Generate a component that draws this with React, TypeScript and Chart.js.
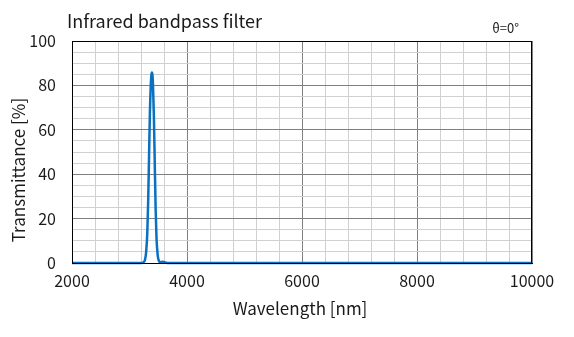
import React, { useEffect, useRef } from "react";
import { Chart, registerables } from "chart.js";

Chart.register(...registerables);

const wavelength = [2000, 3000, 3200, 3240, 3270, 3290, 3310, 3325, 3340, 3355, 3370, 3380, 3390, 3400, 3410, 3425, 3440, 3455, 3470, 3490, 3510, 3540, 3580, 3620, 3660, 4000, 6000, 8000, 10000];
const transmittance = [0, 0, 0, 0.3, 1.5, 5, 14, 28, 48, 68, 80, 84.5, 85.8, 84.5, 79, 65, 44, 24, 11, 3.5, 1, 0.3, 0.6, 0.2, 0, 0, 0, 0, 0];

const xTicks = [2000, 4000, 6000, 8000, 10000];
const yTicks = [0, 20, 40, 60, 80, 100];

const title = "Infrared bandpass filter";
const angleNote = "θ=0°";
const xTitle = "Wavelength [nm]";
const yTitle = "Transmittance [%]";

const FONT = "'Noto Sans CJK JP', 'Noto Sans', sans-serif";

export default function App() {
  const ref = useRef<HTMLCanvasElement>(null);
  useEffect(() => {
    document.body.style.margin = "0";
    const textPlugin = {
      id: "texts",
      afterDraw(chart: any) {
        const ctx = chart.ctx;
        const a = chart.chartArea;
        ctx.save();
        ctx.fillStyle = "#1a1a1a";
        ctx.textBaseline = "alphabetic";
        ctx.font = `18px ${FONT}`;
        ctx.textAlign = "left";
        ctx.fillText(title, 67, 28);
        ctx.font = `13px ${FONT}`;
        ctx.textAlign = "right";
        ctx.fillText(angleNote, 519, 33);
        ctx.font = `17px ${FONT}`;
        ctx.textAlign = "center";
        ctx.textBaseline = "middle";
        ctx.fillText(xTitle, (a.left + a.right) / 2 - 2, 309);
        ctx.translate(19, 170);
        ctx.rotate(-Math.PI / 2);
        ctx.fillText(yTitle, 0, 0);
        ctx.restore();
      },
    };
    const chart = new Chart(ref.current!, {
      type: "line",
      data: {
        datasets: [
          {
            data: wavelength.map((x, i) => ({ x, y: transmittance[i] })),
            borderColor: "#0a70c0",
            borderWidth: 2.5,
            pointRadius: 0,
            cubicInterpolationMode: "monotone",
            fill: false,
            clip: 4,
          } as any,
        ],
      },
      options: {
        animation: false,
        responsive: false,
        layout: { padding: { left: 0, right: 42, top: 41, bottom: 0 } },
        plugins: { legend: { display: false }, tooltip: { enabled: false } },
        scales: {
          x: {
            type: "linear",
            min: 2000,
            max: 10000,
            afterFit: (s: any) => { s.height = 337 - 263; },
            afterBuildTicks: (s: any) => {
              const t = [];
              for (let v = 2000; v <= 10000; v += 400) t.push({ value: v });
              s.ticks = t;
            },
            ticks: {
              autoSkip: false,
              maxRotation: 0,
              padding: 8,
              color: "#1a1a1a",
              font: { family: FONT, size: 16 },
              callback: (v: any) => (xTicks.includes(v) ? String(v) : ""),
            },
            grid: {
              drawTicks: false,
              color: (c: any) => (c.tick && c.tick.value % 2000 === 0 ? "#7f7f7f" : "#d0d0d0"),
              lineWidth: 1,
            },
            border: { display: true, color: "#000", width: 1 },
          },
          y: {
            type: "linear",
            min: 0,
            max: 100,
            afterFit: (s: any) => { s.width = 72; },
            afterBuildTicks: (s: any) => {
              const t = [];
              for (let v = 0; v <= 100; v += 5) t.push({ value: v });
              s.ticks = t;
            },
            ticks: {
              autoSkip: false,
              padding: 16,
              color: "#1a1a1a",
              font: { family: FONT, size: 16 },
              callback: (v: any) => (yTicks.includes(v) ? String(v) : ""),
            },
            grid: {
              drawTicks: false,
              color: (c: any) => (c.tick && c.tick.value % 20 === 0 ? "#7f7f7f" : "#d0d0d0"),
              lineWidth: 1,
            },
            border: { display: true, color: "#000", width: 1 },
          },
        },
      },
      plugins: [
        textPlugin,
        {
          id: "frame",
          afterDatasetsDraw(chart: any) {
            const { ctx, chartArea: a } = chart;
            ctx.save();
            ctx.strokeStyle = "#000";
            ctx.lineWidth = 1;
            ctx.strokeRect(a.left + 0.5, a.top + 0.5, a.right - a.left - 1, a.bottom - a.top);
            ctx.restore();
          },
        },
      ],
    });
    return () => chart.destroy();
  }, []);
  return (
    <div style={{ position: "absolute", left: 0, top: 0, width: 574, height: 337 }}>
      <canvas ref={ref} width={574} height={337} style={{ width: 574, height: 337 }} />
    </div>
  );
}
